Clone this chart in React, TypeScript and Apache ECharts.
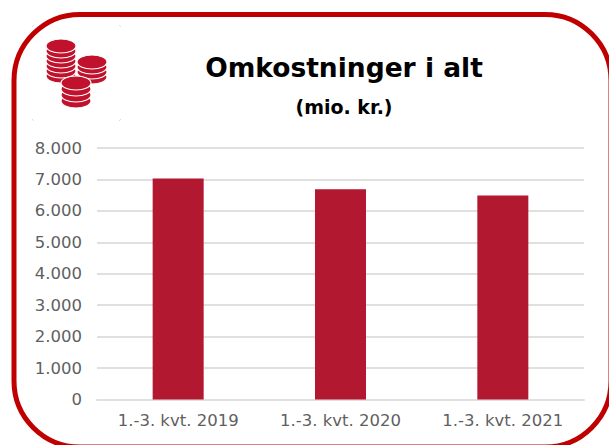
import React, { useEffect, useRef } from "react";
import * as echarts from "echarts";

const categories = ["1.-3. kvt. 2019", "1.-3. kvt. 2020", "1.-3. kvt. 2021"];
const values = [7030, 6690, 6490];
const titleText = "Omkostninger i alt";
const subtitleText = "(mio. kr.)";
const FONT = "'DejaVu Sans', Verdana, sans-serif";
const COIN = "#C0122D";

function stack(cx: number, topY: number, rx: number, ry: number, layers: number, step: number) {
  const out: any[] = [];
  for (let i = layers; i >= 0; i--) {
    out.push({
      type: "ellipse",
      shape: { cx, cy: topY + i * step, rx, ry },
      style: { fill: COIN, stroke: "#fff", lineWidth: 1.2 },
    });
  }
  return out;
}

function tick(x1: number, y1: number, x2: number, y2: number) {
  return { type: "line", shape: { x1, y1, x2, y2 }, style: { stroke: "#DDDDDD", lineWidth: 1 } };
}

export default function App() {
  const ref = useRef<HTMLDivElement>(null);
  useEffect(() => {
    const chart = echarts.init(ref.current!, undefined, { renderer: "svg" });
    chart.setOption({
      animation: false,
      backgroundColor: "#fff",
      grid: { left: 97, right: 25, top: 148, bottom: 45.5, containLabel: false },
      xAxis: {
        type: "category",
        data: categories,
        axisLine: { show: true, lineStyle: { color: "#E0E0E0", width: 2 } },
        axisTick: { show: false },
        axisLabel: { color: "#5F5F5F", fontFamily: FONT, fontSize: 16.5, margin: 12 },
      },
      yAxis: {
        type: "value",
        min: 0,
        max: 8000,
        interval: 1000,
        axisLine: { show: false },
        axisTick: { show: false },
        axisLabel: {
          color: "#5F5F5F",
          fontFamily: FONT,
          fontSize: 16.5,
          margin: 15,
          formatter: (v: number) => String(v).replace(/\B(?=(\d{3})+$)/g, "."),
        },
        splitLine: { lineStyle: { color: "#E0E0E0", width: 2 } },
      },
      series: [
        {
          type: "bar",
          data: values,
          barWidth: 51,
          itemStyle: { color: "#B2182F" },
        },
      ],
      graphic: [
        {
          type: "rect",
          shape: { x: 14, y: 14.5, width: 597, height: 432.5, r: 66 },
          style: { fill: "none", stroke: "#C00000", lineWidth: 5 },
          silent: true,
          z: 10,
        },
        {
          type: "text",
          x: 344,
          y: 67,
          style: { text: titleText, font: `bold 26.5px ${FONT}`, fill: "#000", align: "center", verticalAlign: "middle" },
        },
        {
          type: "text",
          x: 344,
          y: 107,
          style: { text: subtitleText, font: `bold 19px ${FONT}`, fill: "#000", align: "center", verticalAlign: "middle" },
        },
        ...stack(61, 46, 15, 7, 6, 5).map((e) => ({ ...e, z: 11 })),
        ...stack(92, 62, 15, 7, 3, 5).map((e) => ({ ...e, z: 12 })),
        ...stack(76, 83, 15, 7, 3, 6).map((e) => ({ ...e, z: 13 })),
        tick(32, 27, 34, 25),
        tick(119, 25, 121, 27),
        tick(32, 119, 34, 121),
        tick(119, 121, 121, 119),
      ],
    });
    return () => chart.dispose();
  }, []);
  return <div ref={ref} style={{ position: "fixed", left: 0, top: 0, width: 609, height: 445 }} />;
}
